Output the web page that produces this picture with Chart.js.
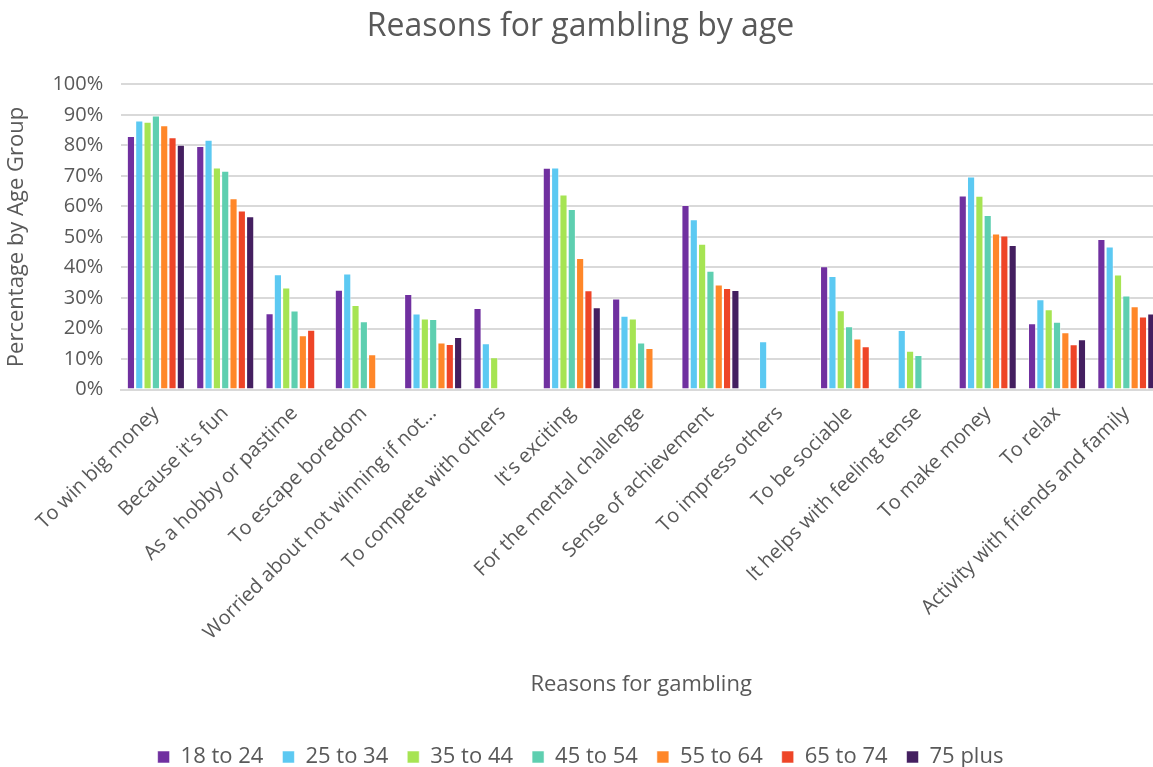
<!DOCTYPE html>
<html>
<head>
<meta charset="utf-8">
<script src="https://cdn.jsdelivr.net/npm/chart.js@4"></script>
<style>
  html, body { margin: 0; padding: 0; background: #fff; overflow: hidden; }
  #wrap { width: 1153px; height: 767px; overflow: hidden; }
  #box { width: 1161px; height: 767px; }
</style>
</head>
<body>
<div id="wrap"><div id="box"><canvas id="myChart"></canvas></div></div>
<script>
// categories (x axis)
const reasons = [
  'To win big money', "Because it's fun", 'As a hobby or pastime', 'To escape boredom',
  'Worried about not winning if not...', 'To compete with others', "It's exciting",
  'For the mental challenge', 'Sense of achievement', 'To impress others', 'To be sociable',
  'It helps with feeling tense', 'To make money', 'To relax', 'Activity with friends and family'
];

const ageGroups = ['18 to 24', '25 to 34', '35 to 44', '45 to 54', '55 to 64', '65 to 74', '75 plus'];

// values in % (null = no bar)
const age18to24 = [83.1, 79.8, 25.0, 32.7, 31.3, 26.7, 72.7, 29.8, 60.5, null, 40.4, null, 63.6, 21.7, 49.3];
const age25to34 = [88.2, 81.9, 37.8, 38.0, 24.9, 15.2, 72.8, 24.2, 55.8, 15.8, 37.2, 19.5, 69.8, 29.6, 46.9];
const age35to44 = [87.8, 72.8, 33.4, 27.7, 23.3, 10.6, 63.9, 23.3, 47.8, null, 26.0, 12.7, 63.5, 26.3, 37.7];
const age45to54 = [89.8, 71.7, 25.9, 22.4, 23.1, null, 59.2, 15.4, 38.9, null, 20.7, 11.3, 57.2, 22.2, 30.8];
const age55to64 = [86.6, 62.7, 17.8, 11.6, 15.4, null, 43.1, 13.6, 34.4, null, 16.7, null, 51.1, 18.8, 27.3];
const age65to74 = [82.7, 58.7, 19.6, null, 14.9, null, 32.5, null, 33.3, null, 14.2, null, 50.5, 14.8, 23.9];
const age75plus = [80.2, 56.8, null, null, 17.2, null, 27.0, null, 32.6, null, null, null, 47.4, 16.5, 24.9];

const yTicks = [0, 10, 20, 30, 40, 50, 60, 70, 80, 90, 100];

const seriesValues = [age18to24, age25to34, age35to44, age45to54, age55to64, age65to74, age75plus];
const colors = ['#7030a0', '#5cc9f2', '#a6e453', '#5ecfb0', '#ff8729', '#ee4527', '#441f60'];

const grey = '#595959';
const font = "'Open Sans', sans-serif";

const ctx = document.getElementById('myChart').getContext('2d');

new Chart(ctx, {
  type: 'bar',
  data: {
    labels: reasons,
    datasets: ageGroups.map((g, i) => ({
      label: g,
      data: seriesValues[i],
      backgroundColor: colors[i],
      borderColor: 'rgba(255,255,255,0.55)',
      borderWidth: 1,
      categoryPercentage: 0.84,
      barPercentage: 0.98
    }))
  },
  options: {
    responsive: true,
    maintainAspectRatio: false,
    animation: false,
    layout: { padding: { top: 6, left: 0, right: 0, bottom: -11 } },
    plugins: {
      title: {
        display: true,
        text: 'Reasons for gambling by age',
        color: grey,
        font: { family: font, size: 32, weight: 'normal' },
        padding: { top: 2, bottom: 38 }
      },
      legend: {
        position: 'bottom',
        labels: {
          color: grey,
          font: { family: font, size: 22 },
          boxWidth: 12,
          boxHeight: 12,
          padding: 19
        }
      },
      tooltip: { enabled: false }
    },
    scales: {
      x: {
        grid: { display: false },
        border: { color: '#d9d9d9', width: 2 },
        ticks: {
          color: grey,
          font: { family: font, size: 20 },
          maxRotation: 45,
          minRotation: 45,
          autoSkip: false,
          padding: 4
        },
        title: {
          display: true,
          text: 'Reasons for gambling',
          color: grey,
          font: { family: font, size: 22 },
          padding: { top: 23, bottom: 29 }
        }
      },
      y: {
        min: 0,
        max: 100,
        afterBuildTicks: axis => { axis.ticks = yTicks.map(v => ({ value: v })); },
        grid: { color: '#d9d9d9', lineWidth: 2, drawTicks: false },
        border: { display: false },
        ticks: {
          color: grey,
          font: { family: font, size: 20 },
          padding: 18,
          callback: v => v + '%'
        },
        title: {
          display: true,
          text: 'Percentage by Age Group',
          color: grey,
          font: { family: font, size: 22 },
          padding: { bottom: 4 }
        }
      }
    }
  }
});
</script>
</body>
</html>
